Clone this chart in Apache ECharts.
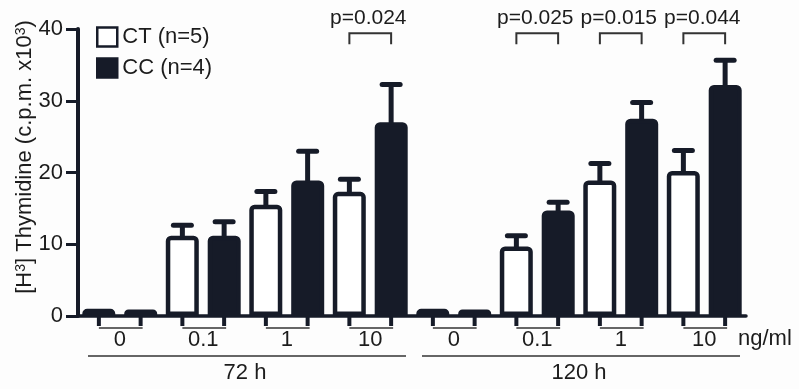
<!DOCTYPE html>
<html>
<head>
<meta charset="utf-8">
<title>Thymidine</title>
<script src="https://cdn.jsdelivr.net/npm/echarts@6/dist/echarts.min.js"></script>
<style>
html, body { margin: 0; padding: 0; background: #fdfdfd; }
#chart { width: 799px; height: 389px; }
</style>
</head>
<body>
<div id="chart"></div>
<script>
var doses = ['0', '0.1', '1', '10', '0', '0.1', '1', '10'];
var timeLabels = ['72 h', '120 h'];
var timeStart = [0, 4];
var timeEnd = [3, 7];
var ctMean = [1.0, 11.2, 15.5, 17.3, 1.0, 9.7, 18.9, 20.2];
var ctSem = [0, 1.45, 1.85, 1.75, 0, 1.5, 2.35, 2.85];
var ccMean = [0.9, 11.2, 18.9, 27.0, 0.9, 14.7, 27.5, 32.2];
var ccSem = [0, 1.95, 4.05, 5.25, 0, 1.15, 2.25, 3.45];
var pIndex = [3, 5, 6, 7];
var pText = ['p=0.024', 'p=0.025', 'p=0.015', 'p=0.044'];
var yMin = 0, yMax = 40, yStep = 10;

var ink = '#161b28';
var textColor = '#1c1c1c';
var font = 'Liberation Sans, Arial, sans-serif';
var fs = 22;

var chart = echarts.init(document.getElementById('chart'));

function errorBar(side) {
    return function(params, api) {
        var sem = api.value(2);
        if (!sem) return;
        var bw = api.size([1, 0])[0];
        var base = api.coord([api.value(0), api.value(1)]);
        var top = api.coord([api.value(0), api.value(1) + sem]);
        var x = base[0] + side * bw / 4;
        return {
            type: 'group',
            children: [{
                type: 'line',
                shape: { x1: x, y1: base[1] + 2, x2: x, y2: top[1] },
                style: { stroke: ink, lineWidth: 5 }
            }, {
                type: 'line',
                shape: { x1: x - 9, y1: top[1], x2: x + 9, y2: top[1] },
                style: { stroke: ink, lineWidth: 5, lineCap: 'round' }
            }]
        };
    };
}

// ticks under each pair of bars
function doseTicks(params, api) {
    var bw = api.size([1, 0])[0];
    var p = api.coord([api.value(0), 0]);
    var xl = p[0] - bw / 4, xr = p[0] + bw / 4;
    var y = p[1];
    return {
        type: 'group',
        children: [{
            type: 'line', shape: { x1: xl, y1: y, x2: xl, y2: y + 10 },
            style: { stroke: ink, lineWidth: 4 }
        }, {
            type: 'line', shape: { x1: xr, y1: y, x2: xr, y2: y + 10 },
            style: { stroke: ink, lineWidth: 4 }
        }, {
            type: 'line', shape: { x1: xl, y1: y + 12, x2: xr + 2, y2: y + 12 },
            style: { stroke: '#333', lineWidth: 1.5 }
        }]
    };
}

function timeGroup(params, api) {
    var bw = api.size([1, 0])[0];
    var a = api.coord([api.value(0), 0]);
    var b = api.coord([api.value(2), 0]);
    var x1 = a[0] - bw / 2 + 10, x2 = b[0] + bw / 2 - 6;
    var y = a[1] + 40;
    return {
        type: 'group',
        children: [{
            type: 'line', shape: { x1: x1, y1: y, x2: x2, y2: y },
            style: { stroke: '#333', lineWidth: 1.5 }
        }, {
            type: 'text',
            style: {
                x: (a[0] + b[0]) / 2, y: y + 17,
                text: timeLabels[params.dataIndex],
                fill: textColor, fontSize: fs, fontFamily: font,
                align: 'center', verticalAlign: 'middle'
            }
        }]
    };
}

function pBracket(params, api) {
    var bw = api.size([1, 0])[0];
    var p = api.coord([api.value(0), api.value(1)]);
    var xl = p[0] - bw / 4, xr = p[0] + bw / 4;
    var y = p[1];
    return {
        type: 'group',
        children: [{
            type: 'polyline',
            shape: { points: [[xl, y + 11], [xl, y], [xr, y], [xr, y + 11]] },
            style: { stroke: '#333', lineWidth: 2, fill: null }
        }, {
            type: 'text',
            style: {
                x: p[0] - 2, y: y - 15, text: pText[params.dataIndex],
                fill: textColor, fontSize: 21, fontFamily: font,
                align: 'center', verticalAlign: 'middle'
            }
        }]
    };
}

var option = {
    backgroundColor: '#fdfdfd',
    animation: false,
    textStyle: { fontFamily: font },
    grid: { left: 78, right: 53, top: 29, bottom: 73 },
    legend: {
        orient: 'vertical',
        left: 96,
        top: 26,
        padding: 0,
        itemGap: 9,
        itemWidth: 20,
        itemHeight: 19,
        icon: 'rect',
        textStyle: { fontSize: fs, color: textColor, fontFamily: font },
        data: [{
            name: 'CT (n=5)',
            itemStyle: { color: '#fff', borderColor: ink, borderWidth: 2.5 }
        }, {
            name: 'CC (n=4)',
            itemStyle: { color: ink, borderColor: ink, borderWidth: 2.5 }
        }]
    },
    xAxis: {
        type: 'category',
        data: doses,
        axisLine: { lineStyle: { color: ink, width: 3.5 } },
        axisTick: { show: false },
        axisLabel: { fontSize: fs, color: textColor, margin: 13, interval: 0 }
    },
    yAxis: {
        type: 'value',
        min: yMin,
        max: yMax,
        interval: yStep,
        axisLine: { show: true, lineStyle: { color: ink, width: 4 } },
        axisTick: { show: true, length: 12, lineStyle: { color: ink, width: 3 } },
        axisLabel: { fontSize: fs, color: textColor, margin: 15 },
        splitLine: { show: false }
    },
    graphic: [{
        type: 'text',
        x: 25,
        y: 157,
        rotation: Math.PI / 2,
        style: {
            text: '[H{sup|3}] Thymidine (c.p.m. x10{sup|3})',
            fill: textColor,
            fontSize: fs,
            fontFamily: font,
            align: 'center',
            verticalAlign: 'middle',
            rich: {
                sup: { fontSize: 14, fontFamily: font, fill: textColor, verticalAlign: 'top' }
            }
        }
    }, {
        type: 'text',
        x: 738,
        y: 339,
        style: {
            text: 'ng/ml', fill: textColor, fontSize: fs, fontFamily: font,
            align: 'left', verticalAlign: 'middle'
        }
    }],
    series: [{
        name: 'CT (n=5)',
        type: 'bar',
        barWidth: 33,
        barGap: '27%',
        itemStyle: { color: '#fff', borderColor: ink, borderWidth: 4.5, borderRadius: [3, 3, 0, 0] },
        data: ctMean
    }, {
        name: 'CC (n=4)',
        type: 'bar',
        barWidth: 33,
        barGap: '27%',
        itemStyle: { color: ink, borderColor: ink, borderWidth: 4.5, borderRadius: [3, 3, 0, 0] },
        data: ccMean
    }, {
        type: 'custom',
        name: 'ctErr',
        z: 3,
        renderItem: errorBar(-1),
        encode: { x: 0, y: 1 },
        data: ctMean.map(function(v, i) { return [i, v, ctSem[i]]; })
    }, {
        type: 'custom',
        name: 'ccErr',
        z: 3,
        renderItem: errorBar(1),
        encode: { x: 0, y: 1 },
        data: ccMean.map(function(v, i) { return [i, v, ccSem[i]]; })
    }, {
        type: 'custom',
        name: 'doseTicks',
        renderItem: doseTicks,
        encode: { x: 0, y: 1 },
        data: doses.map(function(d, i) { return [i, 0]; })
    }, {
        type: 'custom',
        name: 'time',
        renderItem: timeGroup,
        encode: { x: 0, y: 1 },
        data: timeStart.map(function(s, i) { return [s, 0, timeEnd[i]]; })
    }, {
        type: 'custom',
        name: 'pvalues',
        renderItem: pBracket,
        encode: { x: 0, y: 1 },
        data: pIndex.map(function(c) { return [c, 39.4]; })
    }]
};

chart.setOption(option);
</script>
</body>
</html>
